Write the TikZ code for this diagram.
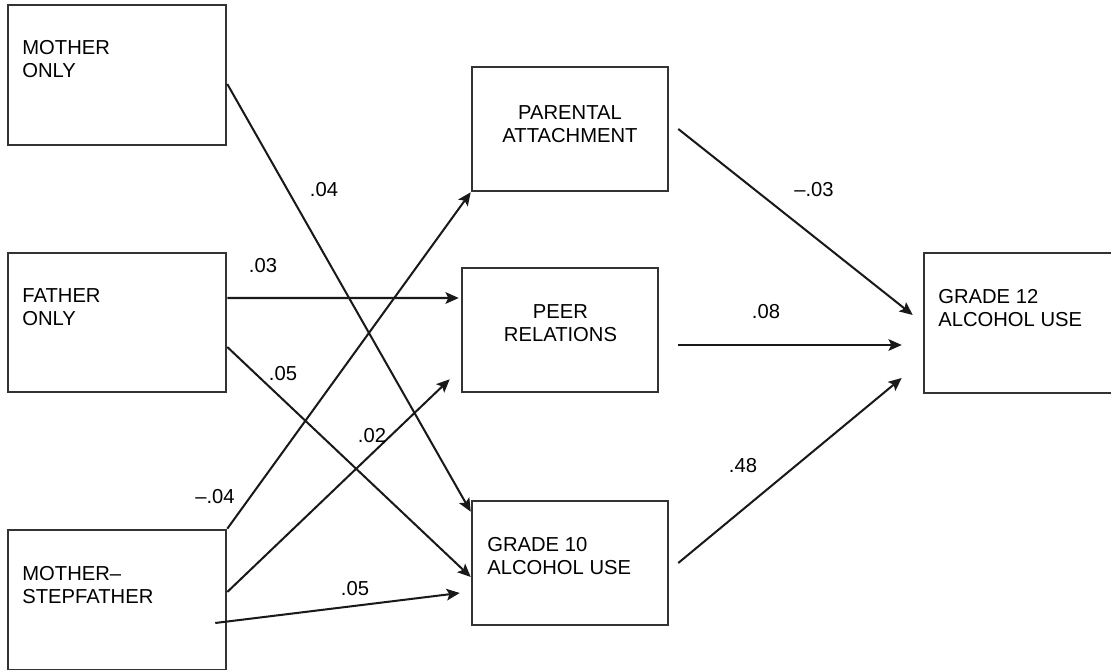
\documentclass[tikz,border=0pt]{standalone}
\usepackage{fontspec}
\setmainfont{Liberation Sans}
\usetikzlibrary{arrows.meta}

\begin{document}
\begin{tikzpicture}
    \tikzstyle block=[draw=black!80, line width=1.45pt, inner sep=0pt]
    \tikzstyle blocktext=[inner sep=0pt, align=left, font=\fontsize{11.5}{13.1}\selectfont]
    \tikzstyle effect=[->, >={Stealth[length=7.5pt,width=6.6pt,inset=1.6pt]}, line width=1.15pt, black!90]
    \tikzstyle coef=[inner sep=0pt, font=\fontsize{11.5}{13.1}\selectfont]
    \useasboundingbox (0,0) rectangle (22.22,13.4);
    \node[block, minimum width=4.36cm, minimum height=2.8cm] (mo) at (2.34,11.9) {};
    \node[block, minimum width=4.36cm, minimum height=2.78cm] (fo) at (2.34,6.95) {};
    \node[block, minimum width=4.36cm, minimum height=2.8cm] (ms) at (2.34,1.4) {};
    \node[block, minimum width=3.92cm, minimum height=2.48cm] (pa) at (11.4,10.82) {};
    \node[block, minimum width=3.92cm, minimum height=2.48cm] (pr) at (11.2,6.8) {};
    \node[block, minimum width=3.92cm, minimum height=2.48cm] (g10) at (11.4,2.14) {};
    \node[block, minimum width=4.12cm, minimum height=2.8cm] (g12) at (20.54,6.94) {};
    \node[blocktext, anchor=north west] (motext) at (0.44,12.6) {MOTHER\\ONLY};
    \node[blocktext, anchor=north west] (fotext) at (0.44,7.64) {FATHER\\ONLY};
    \node[blocktext, anchor=north west] (mstext) at (0.44,2.08) {MOTHER–\\STEPFATHER};
    \node[blocktext, anchor=north, align=center] (patext) at (11.4,11.3) {PARENTAL\\ATTACHMENT};
    \node[blocktext, anchor=north, align=center] (prtext) at (11.21,7.32) {PEER\\RELATIONS};
    \node[blocktext, anchor=north west] (g10text) at (9.74,2.66) {GRADE 10\\ALCOHOL USE};
    \node[blocktext, anchor=north west] (g12text) at (18.76,7.62) {GRADE 12\\ALCOHOL USE};
    \draw[effect] ([yshift=-0.18cm]mo.east) -- ([yshift=-0.24cm]g10.north west);
    \draw[effect] ([yshift=0.49cm]fo.east) -- ([xshift=-0.04cm,yshift=0.64cm]pr.west);
    \draw[effect] ([yshift=-0.49cm]fo.east) -- ([yshift=-0.28cm]g10.west);
    \draw[effect] (ms.north east) -- (pa.south west);
    \draw[effect] ([yshift=0.16cm]ms.east) -- ([xshift=-0.22cm,yshift=0.28cm]pr.south west);
    \draw[effect] ([xshift=-0.24cm,yshift=-0.46cm]ms.east) -- ([xshift=-0.22cm,yshift=-0.6cm]g10.west);
    \draw[effect] ([xshift=0.18cm]pa.east) -- ([xshift=-0.2cm,yshift=0.16cm]g12.west);
    \draw[effect] ([xshift=0.38cm,yshift=-0.3cm]pr.east) -- ([xshift=-0.42cm,yshift=-0.44cm]g12.west);
    \draw[effect] ([xshift=0.18cm]g10.east) -- ([xshift=-0.42cm,yshift=-1.1cm]g12.west);
    \node[coef] (c1) at (6.48,9.6) {.04};
    \node[coef] (c2) at (5.26,8.08) {.03};
    \node[coef] (c3) at (5.66,5.92) {.05};
    \node[coef] (c4) at (4.3,3.46) {–.04};
    \node[coef] (c5) at (7.44,4.68) {.02};
    \node[coef] (c6) at (7.1,1.62) {.05};
    \node[coef] (c7) at (16.28,9.6) {–.03};
    \node[coef] (c8) at (15.32,7.16) {.08};
    \node[coef] (c9) at (14.86,4.08) {.48};
\end{tikzpicture}
\end{document}
